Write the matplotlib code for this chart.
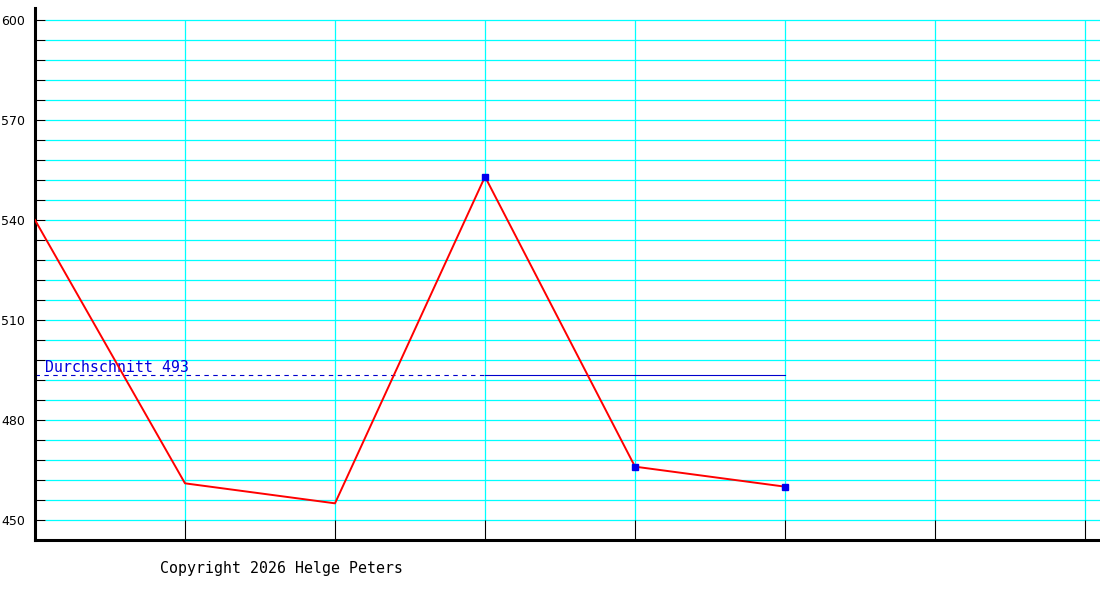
import matplotlib

matplotlib.use("Agg")
import matplotlib.pyplot as plt

# values
positions = [0, 1, 2, 3, 4, 5]
values = [540, 461, 455, 553, 466, 460]
marked = [3, 4, 5]
average = 493.4
avg_label = "Durchschnitt 493"
copyright_text = "Copyright 2026 Helge Peters"
y_labels = [450, 480, 510, 540, 570, 600]
grid_step = 6
x_slots = 7

fig = plt.figure(figsize=(11, 6), dpi=100)
ax = fig.add_axes([35 / 1100, 60 / 600, 1065 / 1100, 532 / 600])
ax.set_xlim(0, 1065 / 150)
ax.set_ylim(444, 603.6)

for s in ("top", "right"):
    ax.spines[s].set_visible(False)
for s in ("left", "bottom"):
    ax.spines[s].set_linewidth(2.2)
    ax.spines[s].set_color("black")

# horizontal grid (cyan) with short black ticks on the left
grid_y = list(range(y_labels[0], y_labels[-1] + 1, grid_step))
ax.set_yticks(grid_y)
ax.set_yticklabels([str(v) if v in y_labels else "" for v in grid_y])
ax.tick_params(axis="y", direction="in", length=7.2, width=0.8, color="black",
               labelsize=9, pad=7)
ax.hlines(grid_y, 10 / 150, ax.get_xlim()[1], colors="#00ffff", linewidth=0.9, zorder=1)

# vertical grid (cyan) above black ticks at the bottom
grid_x = list(range(1, x_slots + 1))
ax.set_xticks(grid_x)
ax.set_xticklabels([])
ax.tick_params(axis="x", direction="in", length=14.4, width=0.8, color="black")
ax.vlines(grid_x, y_labels[0], y_labels[-1], colors="#00ffff", linewidth=0.9, zorder=1)

# average line: dashed to the middle, solid after
ax.plot([0, 3], [average, average], color="#0000cc", linewidth=0.8,
        linestyle=(0, (4, 4)), zorder=2)
ax.plot([3, 5], [average, average], color="#0000cc", linewidth=0.8, zorder=2)
ax.text(10 / 150, average + 0.2, avg_label, color="#0000dd", fontsize=10.7,
        family="DejaVu Sans Mono", va="bottom", ha="left")

ax.plot(positions, values, color="#ff0000", linewidth=1.4, zorder=3)
ax.plot([positions[i] for i in marked], [values[i] for i in marked],
        linestyle="none", marker="s", markersize=3.8, color="#0000ee", zorder=4)

fig.text(160 / 1100, 1 - 568 / 600, copyright_text, fontsize=10.7,
         family="DejaVu Sans Mono", va="center", ha="left")

fig.savefig("out.png", dpi=100, facecolor="white")
